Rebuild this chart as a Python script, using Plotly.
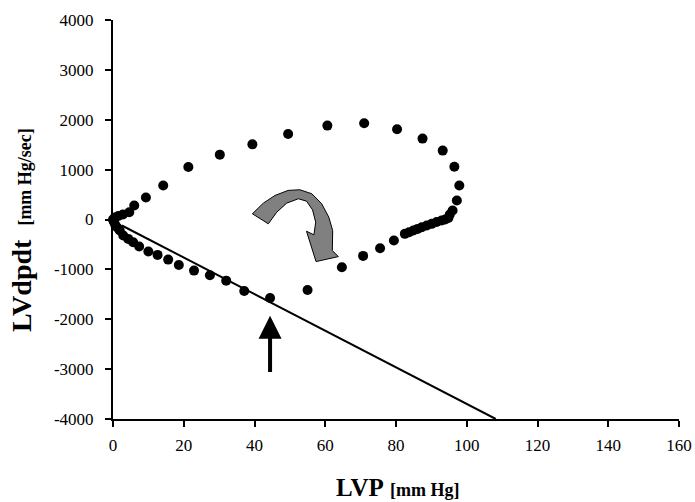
import plotly.graph_objects as go

# Pressure-loop data (LVP in mm Hg, dP/dt in mm Hg/sec)
lvp = [0.0, 0.5, 1.5, 2.8, 4.6, 6.0, 9.3, 14.2, 21.3, 30.2, 39.4, 49.5, 60.6, 71.0,
       80.3, 87.5, 93.2, 96.5, 97.9, 97.2, 96.0,
       95.2, 94.8, 93.9, 92.9, 91.5, 90.1, 88.7, 87.3, 86.1, 84.9, 83.7, 82.5,
       79.4, 75.5, 70.7, 64.7, 55.0, 44.4, 37.1, 32.0, 27.4, 22.9, 18.6, 15.6,
       12.6, 10.0, 7.4, 5.7, 4.3, 2.9, 1.9, 1.2, 0.6, 0.2]
dpdt = [0, 40, 70, 100, 147, 281, 440, 683, 1051, 1300, 1507, 1715, 1883, 1930,
        1809, 1622, 1381, 1059, 683, 382, 181,
        100, 30, 0, -20, -50, -87, -120, -154, -188, -221, -255, -288,
        -422, -576, -730, -958, -1414, -1574, -1434, -1226, -1119, -1025, -911, -804,
        -710, -643, -543, -456, -389, -322, -220, -160, -100, -40]

# Fitted line endpoints
line_x = [2.5, 108.2]
line_y = [-120, -4000]

x_ticks = [0, 20, 40, 60, 80, 100, 120, 140, 160]
y_ticks = [-4000, -3000, -2000, -1000, 0, 1000, 2000, 3000, 4000]

# Curved (decorative) arrow outline, in data coordinates
curve_x = [39.4, 42.5, 45.8, 49.5, 52.8, 56.2, 59.0, 61.0, 62.1, 62.0, 63.7,
           57.4, 54.7, 56.8, 57.3, 56.4, 54.7, 52.4, 49.1, 46.3, 43.9]
curve_y = [115, 328, 482, 583, 597, 516, 315, 47, -221, -623, -744,
           -844, -235, -308, -54, 195, 368, 416, 328, 147, -86]

FONT = "Liberation Serif, Times New Roman, serif"

fig = go.Figure()
fig.add_trace(go.Scatter(x=line_x, y=line_y, mode="lines",
                         line=dict(color="black", width=2), hoverinfo="skip",
                         cliponaxis=False))
fig.add_trace(go.Scatter(x=lvp, y=dpdt, mode="markers",
                         marker=dict(color="black", size=10), cliponaxis=False))

path = "M " + " L ".join(f"{a},{b}" for a, b in zip(curve_x, curve_y)) + " Z"
fig.add_shape(type="path", path=path, xref="x", yref="y",
              fillcolor="#808080", line=dict(color="black", width=1))

# Straight arrow
fig.add_annotation(x=44.4, y=-1930, ax=44.4, ay=-3090, xref="x", yref="y",
                   axref="x", ayref="y", showarrow=True, arrowhead=2,
                   arrowsize=1.15, arrowwidth=4, arrowcolor="black", text="")

# Axis titles
fig.add_annotation(x=0, y=0.4737, xref="paper", yref="paper", xshift=-91,
                   textangle=-90, showarrow=False, xanchor="center", yanchor="middle",
                   text="<b>LVdpdt</b>  <b><span style='font-size:18px'>[mm Hg/sec]</span></b>",
                   font=dict(family=FONT, size=28, color="black"))
fig.add_annotation(x=0.5035, y=-0.171, xref="paper", yref="paper",
                   showarrow=False, xanchor="center", yanchor="middle",
                   text="<b>LVP</b> <b><span style='font-size:18px'>[mm Hg]</span></b>",
                   font=dict(family=FONT, size=25, color="black"))

axis_common = dict(showgrid=False, zeroline=False, showline=True, linecolor="black",
                   linewidth=2, ticks="outside", ticklen=6, tickwidth=2,
                   tickcolor="black", tickfont=dict(family=FONT, size=17, color="black"),
                   automargin=False)
fig.update_xaxes(range=[0, 160], tickvals=x_ticks, ticktext=[str(v) for v in x_ticks],
                 ticklabelstandoff=4, **axis_common)
fig.update_yaxes(range=[-4000, 4000], tickvals=y_ticks, ticktext=[str(v) for v in y_ticks],
                 ticklabelstandoff=8, **axis_common)

fig.update_layout(width=695, height=502, margin=dict(l=113, r=16, t=20, b=83),
                  plot_bgcolor="white", paper_bgcolor="white", showlegend=False,
                  font=dict(family=FONT, color="black"))
# Remove the default page margin so the figure sits at the window's top-left
fig.write_html("out.html", config={"displayModeBar": False},
               post_script="document.body.style.margin='0';"
                           "document.body.style.overflow='hidden';")
